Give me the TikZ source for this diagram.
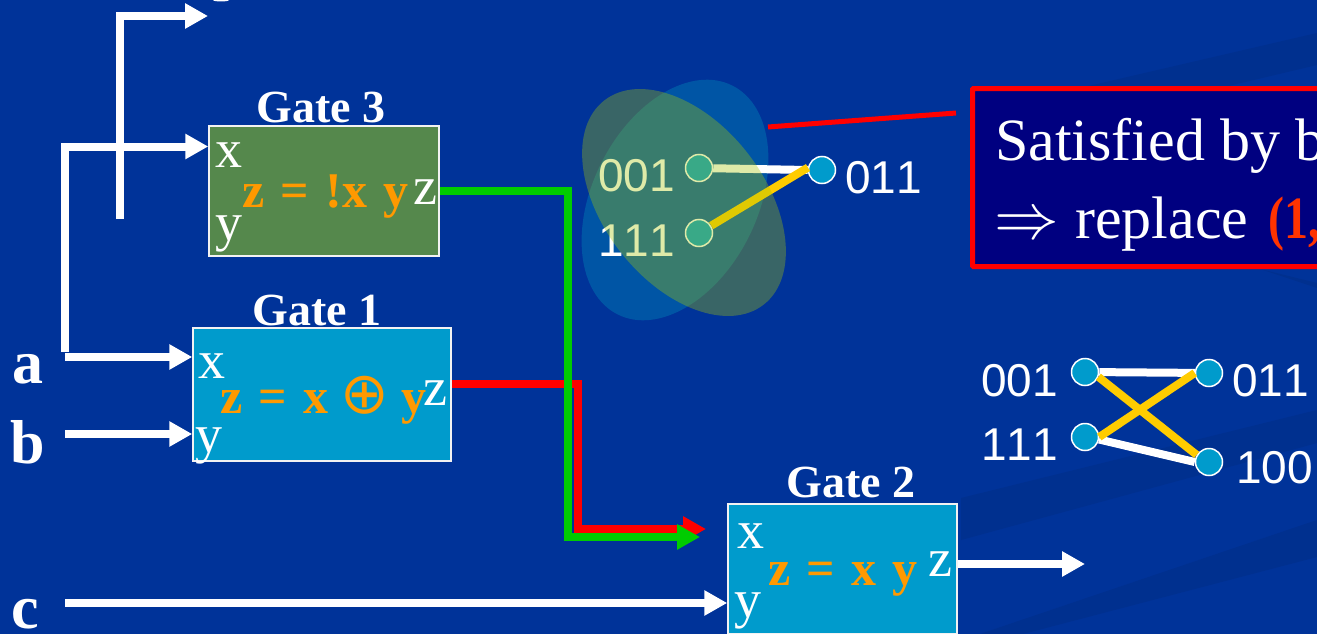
\documentclass[tikz,border=0pt]{standalone}
\usepackage{fontspec}
\usepackage{graphicx}
\setmainfont{Liberation Serif}
\newfontfamily\arialf[Kerning=Off]{Liberation Sans}
\newfontfamily\formf[WordSpace=1.3]{Liberation Serif}
\newfontfamily\symf{DejaVu Sans}
\usetikzlibrary{arrows.meta,shapes.geometric}
\definecolor{bgblue}{HTML}{003399}
\definecolor{bandA}{HTML}{00308F}
\definecolor{gategreen}{HTML}{55884C}
\definecolor{gateblue}{HTML}{009BCC}
\definecolor{orangetxt}{HTML}{FF9900}
\definecolor{navybox}{HTML}{000080}
\definecolor{ellblue}{HTML}{0055A5}
\definecolor{ellolive}{HTML}{A6C507}
\definecolor{wirered}{HTML}{FF0000}
\definecolor{wiregreen}{HTML}{00CC00}
\definecolor{edgeyellow}{HTML}{FFCC00}
\definecolor{numred}{HTML}{FF3300}
\tikzset{
  x=1pt,y=-1pt,
  gatebox/.style={draw=white!90!gray,line width=1.5pt,inner sep=0pt,minimum width=#1},
  gatebox/.default=230pt,
  gatetitle/.style={inner sep=0pt,anchor=base,text=white,font=\fontsize{46}{50}\selectfont\bfseries},
  port/.style={inner sep=0pt,anchor=base west,text=white,font=\fontsize{54}{60}\selectfont},
  formula/.style={inner sep=0pt,anchor=base west,text=orangetxt,font=\formf\fontsize{50}{56}\selectfont\bfseries},
  signal/.style={inner sep=0pt,anchor=base west,text=white,font=\fontsize{62}{68}\selectfont\bfseries},
  wire/.style={line width=8pt,draw=white},
  wirea/.style={wire,-{Triangle[length=23pt,width=24pt]}},
  cwire/.style={line width=8pt,-{Triangle[length=23pt,width=24pt]}},
  dot/.style={circle,draw=white,line width=1.5pt,fill=gateblue,minimum size=27pt,inner sep=0pt},
  num/.style={inner sep=0pt,text=white,font=\arialf\fontsize{46}{50}\selectfont},
  wedge/.style={line width=8pt,draw=white},
  yedge/.style={line width=8pt,draw=edgeyellow},
  calltext/.style={inner sep=0pt,anchor=base west,text=white,font=\fontsize{60}{66}\selectfont},
}
\begin{document}
\begin{tikzpicture}
\useasboundingbox (0,0) rectangle (1317,634);
\clip (0,0) rectangle (1317,634);
\fill[bgblue] (0,0) rectangle (1317,634);
% faint background swaths
\fill[bandA] (1080,88) -- (1317,33) -- (1317,65) -- (1220,88) -- cycle;
\fill[bandA] (1260,269) -- (1317,283) -- (1317,288) -- cycle;
\fill[bandA] (961,498) -- (1317,410) -- (1317,443) -- (961,540) -- cycle;
\fill[bandA] (980,634) -- (1317,520) -- (1317,557) -- (1023,634) -- cycle;
% sliver of a label cut by the top edge
\fill[white] (221,0) ellipse (8 and 1.5);

% gates
\node[gatebox=230pt,minimum height=130pt,fill=gategreen] (g3) at (324,191) {};
\node[gatebox=258pt,minimum height=133pt,fill=gateblue] (g1) at (322,394.5) {};
\node[gatebox=229pt,minimum height=130pt,fill=gateblue] (g2) at (842.5,569) {};

\node[gatetitle] (t3) at (321,122) {Gate 3};
\node[gatetitle] (t1) at (317,325) {Gate 1};
\node[gatetitle] (t2) at (851,497) {Gate 2};

\node[port] (g3xl) at (215,167) {x};
\node[port] (g3yl) at (215,240) {y};
\node[port] (g3zl) at (413,204) {z};
\node[formula] (g3f) at (242,207) {z = !x y};

\node[port] (g1xl) at (198,378) {x};
\node[port] (g1yl) at (195,452) {y};
\node[port] (g1zl) at (423,405) {z};
\node[formula] (g1f) at (220,413) {z = x\hspace{-4pt} {\symf\mdseries\fontsize{58}{60}\selectfont ⊕}\hspace{-4pt} y};

\node[port] (g2xl) at (737,548) {x};
\node[port] (g2yl) at (734,617) {y};
\node[port] (g2zl) at (928,576) {z};
\node[formula] (g2f) at (768,585) {z = x y};

\node[signal] (sa) at (12,383) {a};
\node[signal] (sb) at (10,463) {b};
\node[signal] (sc) at (11,628) {c};

% white wires
\coordinate (atop) at (65,146.5);
\coordinate (afork) at (65,357);
\coordinate (afoot) at (65,352);
\coordinate (bstart) at (65,434);
\coordinate (cstart) at (65,603);
\coordinate (tfoot) at (120,219);
\coordinate (tcorner) at (120,16);
\coordinate (ttip) at (208,16);
\coordinate (oend) at (1085,564);
\draw[wirea] (tfoot) -- (tcorner) -- (ttip);
\draw[wirea] (afoot) -- (atop) -- (g3.west |- atop);
\draw[wirea] (afork) -- (g1.west |- afork);
\draw[wirea] (bstart) -- (g1.west |- bstart);
\draw[wirea] (cstart) -- (g2.west |- cstart);
\draw[wirea] (g2.east |- oend) -- (oend);

% red and green wires
\coordinate (rs) at (g1.east |- 0,384);
\coordinate (rm) at (578,384);
\coordinate (rb) at (578,529);
\coordinate (rt) at (706,529);
\coordinate (gs) at (g3.east |- 0,191);
\coordinate (gm) at (568,191);
\coordinate (gb) at (568,537);
\coordinate (gt) at (700,537);
\draw[cwire,wirered] (rs) -- (rm) -- (rb) -- (rt);
\draw[cwire,wiregreen] (gs) -- (gm) -- (gb) -- (gt);

% implication cluster
\node[ellipse,fill=ellblue,minimum width=256pt,minimum height=165pt,inner sep=0pt,rotate=63.4] (ellA) at (675,200) {};
\node[num,anchor=east] (n1) at (675,176) {001};
\node[num,anchor=east] (n2) at (675,241) {111};
\node[num,anchor=west] (n3) at (845,178) {011};
\node[dot] (d1) at (699,168) {};
\node[dot] (d2) at (699,233) {};
\node[dot] (d3) at (822,170) {};
\draw[wedge] (d1) -- (d3.west);
\draw[yedge] (d2) -- (d3.170);
\node[ellipse,fill=ellolive,fill opacity=.35,minimum width=259pt,minimum height=161pt,inner sep=0pt,rotate=-52] (ellB) at (684,202.5) {};

% callout
\node[draw=wirered,line width=5pt,fill=navybox,rounded corners=1pt,anchor=north west,minimum width=500pt,minimum height=178pt,inner sep=0pt,outer sep=0pt] (box) at (972.5,88.5) {};
\coordinate (lead) at (768,127);
\coordinate (leadend) at (956,113);
\draw[line width=5pt,draw=wirered] (lead) -- (leadend);
\node[calltext] (l1) at (995,160) {Satisfied by b};
\node[calltext] (l2a) at (994,238) {\scalebox{2.6}{$\Rightarrow$}};
\node[calltext] (l2b) at (1075,238) {replace};
\node[calltext,text=numred,font=\fontsize{60}{66}\selectfont\bfseries] (l2c) at (1268,238) {\scalebox{.8}[1]{(1,}};

% second graph
\node[num,anchor=east] (m1) at (1058,381) {001};
\node[num,anchor=east] (m2) at (1058,445) {111};
\node[num,anchor=west] (m3) at (1232,381) {011};
\node[num,anchor=west] (m4) at (1236,468) {100};
\node[dot] (a1) at (1085,372) {};
\node[dot] (a2) at (1085,437) {};
\node[dot] (b1) at (1209,373) {};
\node[dot] (b2) at (1209,462) {};
\draw[wedge] (a1) -- (b1);
\draw[wedge] (a2.-10) -- (b2.west);
\draw[yedge] (a1.-20) -- (b2.150);
\draw[yedge] (a2.east) -- (b1.west);
\end{tikzpicture}
\end{document}
